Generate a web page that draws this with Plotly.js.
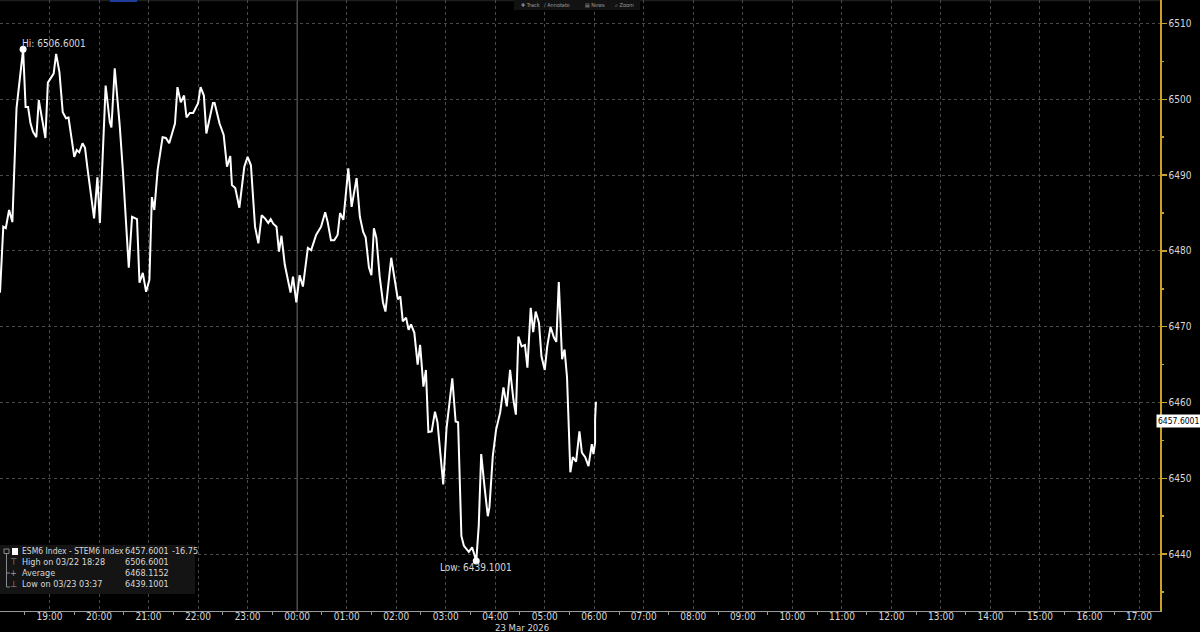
<!DOCTYPE html>
<html>
<head>
<meta charset="utf-8">
<script src="https://cdn.plot.ly/plotly-3.0.1.min.js"></script>
<style>
html,body{margin:0;padding:0;background:#000;}
#chart{width:1200px;height:632px;}
</style>
</head>
<body>
<div id="chart"></div>
<script>
// ---- data ----
const times = [
"2026-03-22 18:00","2026-03-22 18:04","2026-03-22 18:07","2026-03-22 18:11","2026-03-22 18:15",
"2026-03-22 18:20","2026-03-22 18:28","2026-03-22 18:31","2026-03-22 18:34","2026-03-22 18:37",
"2026-03-22 18:40","2026-03-22 18:44","2026-03-22 18:47","2026-03-22 18:51","2026-03-22 18:55",
"2026-03-22 18:58","2026-03-22 19:02","2026-03-22 19:05","2026-03-22 19:08","2026-03-22 19:12",
"2026-03-22 19:16","2026-03-22 19:20","2026-03-22 19:23","2026-03-22 19:26","2026-03-22 19:30",
"2026-03-22 19:33","2026-03-22 19:36","2026-03-22 19:40","2026-03-22 19:43","2026-03-22 19:46",
"2026-03-22 19:50","2026-03-22 19:54","2026-03-22 19:58","2026-03-22 20:01","2026-03-22 20:08",
"2026-03-22 20:13","2026-03-22 20:15","2026-03-22 20:19","2026-03-22 20:25","2026-03-22 20:29",
"2026-03-22 20:36","2026-03-22 20:40","2026-03-22 20:46","2026-03-22 20:49","2026-03-22 20:53",
"2026-03-22 20:57","2026-03-22 21:01","2026-03-22 21:04","2026-03-22 21:07","2026-03-22 21:11",
"2026-03-22 21:17","2026-03-22 21:21","2026-03-22 21:25","2026-03-22 21:32","2026-03-22 21:35",
"2026-03-22 21:39","2026-03-22 21:43","2026-03-22 21:46","2026-03-22 21:50","2026-03-22 21:54",
"2026-03-22 22:00","2026-03-22 22:03","2026-03-22 22:07","2026-03-22 22:10","2026-03-22 22:18",
"2026-03-22 22:20","2026-03-22 22:26","2026-03-22 22:31","2026-03-22 22:35","2026-03-22 22:39",
"2026-03-22 22:41","2026-03-22 22:45","2026-03-22 22:50","2026-03-22 22:56","2026-03-22 23:00",
"2026-03-22 23:04","2026-03-22 23:09","2026-03-22 23:13","2026-03-22 23:17","2026-03-22 23:21",
"2026-03-22 23:25","2026-03-22 23:28","2026-03-22 23:31","2026-03-22 23:35","2026-03-22 23:38",
"2026-03-22 23:41","2026-03-22 23:45","2026-03-22 23:52","2026-03-22 23:55","2026-03-22 23:59",
"2026-03-23 00:03","2026-03-23 00:07","2026-03-23 00:13","2026-03-23 00:17","2026-03-23 00:23",
"2026-03-23 00:29","2026-03-23 00:34","2026-03-23 00:37","2026-03-23 00:41","2026-03-23 00:45",
"2026-03-23 00:49","2026-03-23 00:52","2026-03-23 00:56","2026-03-23 00:58","2026-03-23 01:02",
"2026-03-23 01:06","2026-03-23 01:12","2026-03-23 01:16","2026-03-23 01:20","2026-03-23 01:23",
"2026-03-23 01:27","2026-03-23 01:30","2026-03-23 01:33","2026-03-23 01:36","2026-03-23 01:40",
"2026-03-23 01:44","2026-03-23 01:47","2026-03-23 01:54","2026-03-23 01:59","2026-03-23 02:02",
"2026-03-23 02:05","2026-03-23 02:08","2026-03-23 02:12","2026-03-23 02:15","2026-03-23 02:18",
"2026-03-23 02:22","2026-03-23 02:26","2026-03-23 02:29","2026-03-23 02:33","2026-03-23 02:36",
"2026-03-23 02:39","2026-03-23 02:43","2026-03-23 02:47","2026-03-23 02:50","2026-03-23 02:57",
"2026-03-23 03:01","2026-03-23 03:08","2026-03-23 03:12","2026-03-23 03:15","2026-03-23 03:19",
"2026-03-23 03:22","2026-03-23 03:28","2026-03-23 03:32","2026-03-23 03:37","2026-03-23 03:40",
"2026-03-23 03:43","2026-03-23 03:47","2026-03-23 03:51","2026-03-23 03:53","2026-03-23 03:57",
"2026-03-23 04:01","2026-03-23 04:06","2026-03-23 04:10","2026-03-23 04:14","2026-03-23 04:18",
"2026-03-23 04:22","2026-03-23 04:25","2026-03-23 04:28","2026-03-23 04:32","2026-03-23 04:36",
"2026-03-23 04:39","2026-03-23 04:43","2026-03-23 04:46","2026-03-23 04:49","2026-03-23 04:53",
"2026-03-23 04:56","2026-03-23 05:00","2026-03-23 05:03","2026-03-23 05:07","2026-03-23 05:11",
"2026-03-23 05:14","2026-03-23 05:17","2026-03-23 05:21","2026-03-23 05:24","2026-03-23 05:27",
"2026-03-23 05:31","2026-03-23 05:34","2026-03-23 05:38","2026-03-23 05:42","2026-03-23 05:45",
"2026-03-23 05:49","2026-03-23 05:53","2026-03-23 05:57","2026-03-23 05:59","2026-03-23 06:01",
"2026-03-23 06:01","2026-03-23 06:02"
];
const prices = [
6474.5,6483.2,6483.0,6485.4,6483.8,
6498.8,6506.6,6499.0,6499.0,6496.8,
6495.7,6495.0,6499.9,6497.5,6494.9,
6502.2,6502.8,6503.4,6506.0,6503.6,
6498.3,6497.5,6497.6,6495.3,6492.4,
6493.3,6493.0,6494.2,6493.6,6490.9,
6487.8,6484.3,6489.7,6483.7,6501.8,
6497.0,6496.3,6504.1,6496.6,6490.4,
6477.8,6484.5,6484.2,6475.8,6477.1,
6474.6,6476.2,6487.1,6485.4,6490.7,
6495.0,6494.9,6494.2,6496.8,6501.6,
6499.6,6500.5,6497.6,6498.2,6498.2,
6499.5,6501.6,6500.5,6495.5,6499.5,
6499.5,6496.8,6495.3,6491.1,6492.5,
6488.7,6488.3,6485.7,6491.1,6492.4,
6491.3,6483.2,6481.0,6484.7,6484.3,
6483.7,6484.2,6483.6,6483.2,6479.9,
6482.0,6478.2,6474.5,6476.6,6473.2,
6476.8,6475.3,6480.4,6480.1,6482.1,
6483.2,6485.1,6483.8,6481.4,6481.4,
6482.1,6485.0,6484.1,6486.3,6490.9,
6485.8,6489.6,6484.5,6482.5,6481.8,
6477.8,6476.8,6483.0,6481.7,6476.6,
6473.2,6472.0,6479.1,6475.5,6473.6,
6474.0,6470.7,6471.2,6469.6,6470.3,
6469.2,6465.0,6467.6,6462.1,6464.3,
6456.1,6456.2,6458.8,6457.4,6449.2,
6456.6,6463.2,6457.5,6457.4,6442.4,
6441.1,6440.3,6440.9,6439.1,6443.7,
6453.2,6448.9,6445.0,6446.2,6452.9,
6456.4,6458.7,6462.0,6459.5,6464.3,
6460.4,6458.4,6468.7,6467.4,6467.6,
6464.6,6472.5,6469.3,6472.0,6470.5,
6466.1,6464.3,6467.4,6470.0,6468.6,
6468.0,6475.9,6465.7,6467.0,6463.3,
6450.8,6452.8,6452.2,6456.2,6453.4,
6452.8,6451.6,6454.5,6453.2,6454.7,
6457.8,6460.1
];
const hiTime = "2026-03-22 18:28", hiValue = 6506.6001;
const loTime = "2026-03-23 03:37", loValue = 6439.1001;
const lastValue = 6457.6001, netChange = -16.75, avgValue = 6468.1152;
const seriesName = "ESM6 Index - STEM6 Index";
const toolbarLabels = ["\u271A Track", "\u2215 Annotate", "\u25A4 News", "\u2315 Zoom"];
const dateLabel = "23 Mar 2026";

// ---- layout helpers (pixel -> paper) ----
const PW = 1160, PH = 611;
const px = v => v / PW;
const py = v => 1 - v / PH;
const FONT = "Liberation Sans Narrow, DejaVu Sans Condensed, Liberation Sans, Arial, sans-serif";
const TXT = "#d8d8d8";
const YEL = "#c9a227";

const traces = [
  {x: times, y: prices, type: "scatter", mode: "lines",
   line: {color: "#ffffff", width: 2}, hoverinfo: "skip", showlegend: false},
  {x: [hiTime, loTime], y: [hiValue, loValue], type: "scatter", mode: "markers",
   marker: {color: "#ffffff", size: 7}, hoverinfo: "skip", showlegend: false}
];

function lab(x, y, text, opts) {
  return Object.assign({x: px(x), y: py(y), xref: "paper", yref: "paper", xanchor: "left",
    yanchor: "middle", showarrow: false, text: text,
    font: {family: FONT, size: 9, color: TXT}}, opts || {});
}

const annotations = [
  {x: hiTime, y: hiValue, xref: "x", yref: "y", text: "Hi: " + hiValue.toFixed(4),
   showarrow: false, xanchor: "left", yanchor: "bottom", xshift: -3, yshift: -2,
   font: {family: FONT, size: 10, color: TXT}},
  {x: loTime, y: loValue, xref: "x", yref: "y", text: "Low: " + loValue.toFixed(4),
   showarrow: false, xanchor: "center", yanchor: "top", yshift: 1,
   font: {family: FONT, size: 10, color: TXT}},
  {x: 1, xref: "paper", y: lastValue, yref: "y", yanchor: "middle", text: lastValue.toFixed(4),
   showarrow: false, xanchor: "left", xshift: -4, bgcolor: "#ffffff", borderpad: 1,
   font: {family: FONT, size: 8.5, color: "#000"}},
  {x: "2026-03-23 04:33", xref: "x", y: 0, yref: "paper", yanchor: "middle",
   text: dateLabel, showarrow: false, yshift: -16, font: {family: FONT, size: 9.5, color: TXT}},
  // legend box lines
  lab(20, 551, seriesName, {font: {family: FONT, size: 8.5, color: TXT}}),
  lab(123, 551, lastValue.toFixed(4)),
  lab(170, 551, netChange.toFixed(2)),
  lab(20, 562, "High on 03/22 18:28"),
  lab(123, 562, hiValue.toFixed(4)),
  lab(20, 573, "Average"),
  lab(123, 573, avgValue.toFixed(4)),
  lab(20, 584, "Low on 03/23 03:37"),
  lab(123, 584, loValue.toFixed(4)),
  lab(13, 562, "\u22A4", {xanchor: "center", font: {family: FONT, size: 9, color: "#9a9a9a"}}),
  lab(13, 573, "+", {xanchor: "center", font: {family: FONT, size: 9, color: "#9a9a9a"}}),
  lab(13, 584, "\u22A5", {xanchor: "center", font: {family: FONT, size: 9, color: "#9a9a9a"}})
];
// toolbar labels
const tbX = [530, 557, 595, 624];
toolbarLabels.forEach((t, i) => annotations.push(
  lab(tbX[i], 5, t, {xanchor: "center", font: {family: FONT, size: 5.5, color: "#9a9a9a"}})
));

const shapes = [
  // day separator
  {type: "line", xref: "x", yref: "paper", x0: "2026-03-23 00:00", x1: "2026-03-23 00:00", y0: 0, y1: 1,
   line: {color: "#6e6e6e", width: 1}, layer: "below"},
  // top strip
  {type: "rect", xref: "paper", yref: "paper", x0: 0, x1: 1, y0: py(1.2), y1: 1,
   fillcolor: "#1e1e1e", line: {width: 0}, layer: "below"},
  {type: "rect", xref: "paper", yref: "paper", x0: px(110), x1: px(137), y0: py(2), y1: 1,
   fillcolor: "#1f3d9a", line: {width: 0}},
  // toolbar background
  {type: "rect", xref: "paper", yref: "paper", x0: px(514), x1: px(640), y0: py(10), y1: 1,
   fillcolor: "#121212", line: {width: 0}},
  // legend box
  {type: "rect", xref: "paper", yref: "paper", x0: 0, x1: px(195), y0: py(594), y1: py(545),
   fillcolor: "#141414", line: {width: 0}},
  // legend swatch
  {type: "rect", xref: "paper", yref: "paper", x0: px(12), x1: px(18), y0: py(555), y1: py(548),
   fillcolor: "#ffffff", line: {width: 0}},
  {type: "rect", xref: "paper", yref: "paper", x0: px(4), x1: px(9), y0: py(553.5), y1: py(549),
   fillcolor: "rgba(0,0,0,0)", line: {color: "#8a8a8a", width: 1}},
  {type: "line", xref: "paper", yref: "paper", x0: px(6.5), x1: px(6.5), y0: py(587), y1: py(554),
   line: {color: "#8a8a8a", width: 1}},
  {type: "line", xref: "paper", yref: "paper", x0: px(6.5), x1: px(10), y0: py(573), y1: py(573),
   line: {color: "#8a8a8a", width: 1}},
  {type: "line", xref: "paper", yref: "paper", x0: px(6.5), x1: px(10), y0: py(587), y1: py(587),
   line: {color: "#8a8a8a", width: 1}}
];

const layout = {
  width: 1200, height: 632,
  paper_bgcolor: "#000000", plot_bgcolor: "#000000",
  margin: {l: 0, r: 40, t: 0, b: 21},
  showlegend: false,
  font: {family: FONT, size: 10, color: TXT},
  xaxis: {
    type: "date",
    range: ["2026-03-22 18:00", "2026-03-23 17:25:24"],
    dtick: 3600000, tick0: "2026-03-22 19:00", tickformat: "%H:%M",
    showgrid: true, gridcolor: "#4a4a4a", griddash: "dot", gridwidth: 1,
    showline: true, linecolor: "#9a9a9a", linewidth: 1,
    ticks: "", ticklabelstandoff: -4,
    minor: {dtick: 1800000, tick0: "2026-03-22 18:30", ticks: "outside", ticklen: 3, tickcolor: "#9a9a9a", showgrid: false},
    tickfont: {family: FONT, size: 10, color: TXT},
    zeroline: false, fixedrange: true
  },
  yaxis: {
    side: "right",
    range: [6432.5, 6513.1],
    dtick: 10, tick0: 6440,
    showgrid: true, gridcolor: "#4a4a4a", griddash: "dot", gridwidth: 1,
    showline: true, linecolor: YEL, linewidth: 1.5,
    ticks: "outside", ticklen: 5, tickcolor: YEL, tickwidth: 1.5,
    minor: {dtick: 5, ticks: "outside", ticklen: 2, tickcolor: YEL, showgrid: false},
    tickfont: {family: FONT, size: 10, color: TXT},
    zeroline: false, fixedrange: true
  },
  annotations: annotations,
  shapes: shapes
};

Plotly.newPlot("chart", traces, layout, {displayModeBar: false, staticPlot: true});
</script>
</body>
</html>
